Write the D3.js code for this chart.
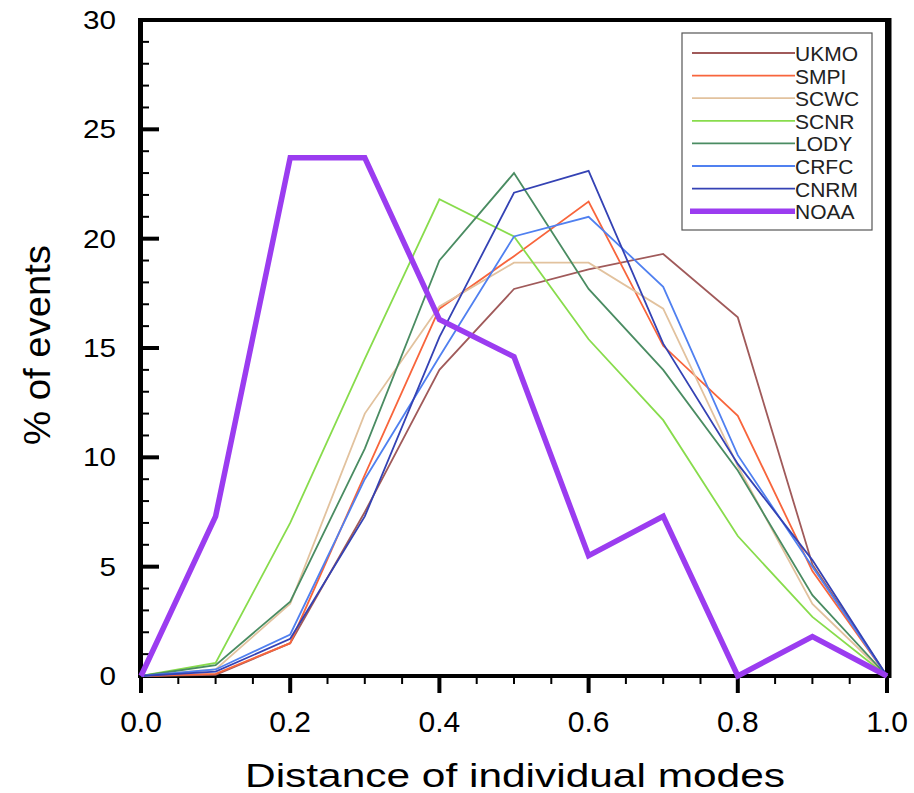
<!DOCTYPE html>
<html><head><meta charset="utf-8">
<script src="https://cdn.jsdelivr.net/npm/d3@7"></script>
<style>body{margin:0;background:#fff}svg{display:block}text{font-family:"Liberation Sans",Arial,sans-serif}</style>
</head><body>
<svg id="c" width="914" height="793"></svg>
<script>
const xValues = [0, 0.1, 0.2, 0.3, 0.4, 0.5, 0.6, 0.7, 0.8, 0.9, 1.0];
const seriesNames = ["UKMO","SMPI","SCWC","SCNR","LODY","CRFC","CNRM","NOAA"];
const UKMO = [0, 0.05, 1.5, 7.5, 14.0, 17.7, 18.6, 19.3, 16.4, 5.1, 0];
const SMPI = [0, 0.1, 1.5, 9.2, 16.8, 19.2, 21.7, 15.1, 11.9, 4.8, 0];
const SCWC = [0, 0.3, 3.3, 12.0, 16.9, 18.9, 18.9, 16.8, 9.6, 3.3, 0];
const SCNR = [0, 0.6, 7.0, 14.5, 21.8, 20.1, 15.4, 11.7, 6.4, 2.7, 0];
const LODY = [0, 0.5, 3.4, 10.4, 19.0, 23.0, 17.7, 14.0, 9.4, 3.7, 0];
const CRFC = [0, 0.3, 1.9, 9.0, 14.6, 20.1, 21.0, 17.8, 10.1, 5.0, 0];
const CNRM = [0, 0.2, 1.7, 7.3, 15.5, 22.1, 23.1, 15.2, 9.7, 5.3, 0];
const NOAA = [0, 7.3, 23.7, 23.7, 16.3, 14.6, 5.5, 7.3, 0, 1.8, 0];
const xTickLabels = ["0.0","0.2","0.4","0.6","0.8","1.0"];
const yTickLabels = ["0","5","10","15","20","25","30"];

const seriesValues = [UKMO, SMPI, SCWC, SCNR, LODY, CRFC, CNRM, NOAA];
const colors = ["#a05a5a","#f8653c","#e2c29e","#88dc4c","#4a8c62","#5080f0","#3442b4","#9b3cf0"];
const widths = [1.8,1.8,1.8,1.8,1.8,1.8,1.8,5.5];

const svg = d3.select("#c");
const L = 141, R = 887, T = 20, B = 676;
const x = d3.scaleLinear().domain([0,1]).range([L,R]);
const y = d3.scaleLinear().domain([0,30]).range([B,T]);

// frame
svg.append("rect").attr("x",L).attr("y",T).attr("width",R-L).attr("height",B-T)
  .attr("fill","none").attr("stroke","#000").attr("stroke-width",4);
svg.append("line").attr("x1",L-0.5).attr("x2",L-0.5).attr("y1",T-2).attr("y2",B+2)
  .attr("stroke","#000").attr("stroke-width",5);
svg.append("line").attr("x1",R+2).attr("x2",R+2).attr("y1",T-2).attr("y2",B+2)
  .attr("stroke","#000").attr("stroke-width",5);

// x axis ticks (outward)
const xMinor = d3.range(0,1.0001,0.05);
svg.append("g").selectAll("line").data(xMinor).join("line")
  .attr("x1",d=>x(d)).attr("x2",d=>x(d)).attr("y1",B)
  .attr("y2",(d,i)=> i%4===0 ? B+17 : B+8)
  .attr("stroke","#000").attr("stroke-width",(d,i)=> i%4===0 ? 4 : 2);
svg.append("g").selectAll("text").data(xTickLabels).join("text")
  .attr("x",d=>x(+d)).attr("y",732).attr("text-anchor","middle")
  .attr("font-size",30).text(d=>d);

// y axis ticks (inward)
const yMinor = d3.range(0,30.001,1);
svg.append("g").selectAll("line").data(yMinor).join("line")
  .attr("x1",L).attr("x2",(d)=> d%5===0 ? L+18 : L+8)
  .attr("y1",d=>y(d)).attr("y2",d=>y(d))
  .attr("stroke","#000").attr("stroke-width",d=> d%5===0 ? 4 : 2);
svg.append("g").selectAll("text").data(yTickLabels).join("text")
  .attr("x",116).attr("y",d=>y(+d)+9).attr("text-anchor","end")
  .attr("font-size",26)
  .attr("textLength",d=>d.length*16.5).attr("lengthAdjust","spacingAndGlyphs")
  .text(d=>d);

// axis titles
svg.append("text").attr("x",515).attr("y",787).attr("text-anchor","middle")
  .attr("font-size",34).attr("textLength",540).attr("lengthAdjust","spacingAndGlyphs")
  .text("Distance of individual modes");
svg.append("text").attr("transform","translate(50,345) rotate(-90)")
  .attr("text-anchor","middle").attr("font-size",36)
  .attr("textLength",200).attr("lengthAdjust","spacingAndGlyphs")
  .text("% of events");

// lines
const line = d3.line().x((d,i)=>x(xValues[i])).y(d=>y(d));
svg.append("g").selectAll("path").data(seriesValues).join("path")
  .attr("d",d=>line(d)).attr("fill","none")
  .attr("stroke",(d,i)=>colors[i]).attr("stroke-width",(d,i)=>widths[i])
  .attr("stroke-linejoin","miter");

// legend
const lg = svg.append("g");
lg.append("rect").attr("x",682).attr("y",33).attr("width",190).attr("height",197)
  .attr("fill","#fff").attr("stroke","#555").attr("stroke-width",1.2);
seriesNames.forEach((n,i)=>{
  const yy = 53 + i*22.6;
  lg.append("line").attr("x1",i===7?690:692).attr("x2",795).attr("y1",yy).attr("y2",yy)
    .attr("stroke",colors[i]).attr("stroke-width",i===7?5.5:1.8);
  lg.append("text").attr("x",795).attr("y",yy+8).attr("font-size",21)
    .attr("fill","#222").text(n);
});
</script>
</body></html>
